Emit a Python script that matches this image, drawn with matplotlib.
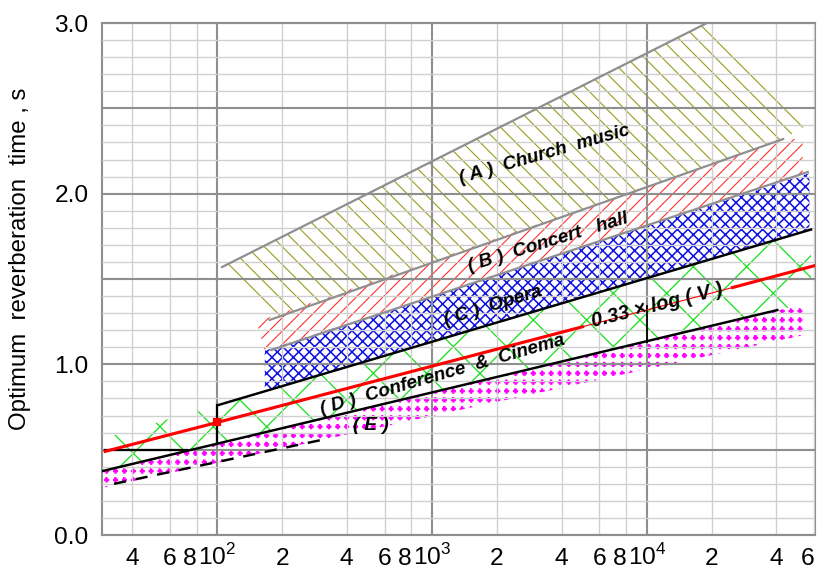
import numpy as np
import matplotlib
matplotlib.use("Agg")
import matplotlib.pyplot as plt
import matplotlib.hatch as mhatch
from matplotlib.path import Path
from matplotlib.patches import Polygon

plt.rcParams['font.family'] = ['Liberation Sans', 'DejaVu Sans']
plt.rcParams['mathtext.fontset'] = 'custom'
plt.rcParams['mathtext.rm'] = 'Liberation Sans'
plt.rcParams['hatch.linewidth'] = 0.55

DPI = 160

# ---- room volume V (m^3) against optimum reverberation time T (s) ----
# band outlines as (V, T) corner lists
church_v = [105, 1.9e4, 5.7e4, 4.3e4, 175]
church_t = [1.57, 3.0, 2.41, 2.32, 1.26]
concert_v = [152, 4.3e4, 5.3e4, 5.3e4, 166]
concert_t = [1.25, 2.32, 2.32, 2.12, 1.08]
opera_v = [166, 5.7e4, 5.7e4, 166]
opera_t = [1.08, 2.12, 1.79, 0.84]
conf_v = [29, 5.8e4, 5.8e4, 4.04e4, 29]
conf_t = [0.564, 1.79, 1.36, 1.318, 0.374]
speech_v = [29, 4.04e4, 5.3e4, 5.3e4, 30]
speech_t = [0.374, 1.318, 1.34, 1.17, 0.28]

# boundary lines
church_top_v, church_top_t = [105, 1.9e4], [1.57, 3.0]
concert_top_v, concert_top_t = [175, 4.3e4], [1.26, 2.32]
opera_top_v, opera_top_t = [178, 5.6e4], [1.084, 2.127]
upper_v, upper_t = [100, 5.8e4], [0.76, 1.79]
lower_v, lower_t = [29, 4.04e4], [0.374, 1.318]
flat_v, flat_t = [30, 72], [0.5, 0.5]
dash_v, dash_t = [33, 300], [0.30, 0.555]
bar100_v, bar100_t = [100, 100], [0.535, 0.76]
bar1e4_v, bar1e4_t = [1e4, 1e4], [1.13, 1.34]

# T = 0.33 log(V)
red_v = [30, 100, 5.0e3, 2.5e4, 6.1e4]
red_t = [0.49, 0.66, 1.22, 1.45, 1.58]

xminor = [40, 60, 80, 200, 400, 600, 800, 2000, 4000, 6000, 8000, 2e4, 4e4, 6e4]
xminor_labels = ['4', '6', '8', '2', '4', '6', '8', '2', '4', '6', '8', '2', '4', '6']
xmajor = [100, 1000, 10000]
xmajor_labels = [r'$10^{2}$', r'$10^{3}$', r'$10^{4}$']
ymajor = [0.0, 0.5, 1.0, 1.5, 2.0, 2.5, 3.0]
ymajor_labels = ['0.0', '', '1.0', '', '2.0', '', '3.0']


# small filled "+" marks on a square grid, used for band (E)
_arm, _half = 1.0, 0.3
PLUS = np.array([(-_half, _arm), (_half, _arm), (_half, _half), (_arm, _half),
                 (_arm, -_half), (_half, -_half), (_half, -_arm), (-_half, -_arm),
                 (-_half, -_half), (-_arm, -_half), (-_arm, _half), (-_half, _half),
                 (-_half, _arm)])
PLUS_CODES = np.full(len(PLUS), Path.LINETO, dtype=Path.code_type)
PLUS_CODES[0] = Path.MOVETO


class PlusDots(mhatch.HatchPatternBase):
    def __init__(self, hatch, density):
        self.num_rows = hatch.count('*') * density
        if self.num_rows:
            self.num_vertices = (self.num_rows + 1) ** 2 * len(PLUS)
        else:
            self.num_vertices = 0

    def set_vertices_and_codes(self, vertices, codes):
        step = 1.0 / self.num_rows
        shape = PLUS * step * 0.22
        n = len(shape)
        cur = 0
        for i in range(self.num_rows + 1):
            for j in range(self.num_rows + 1):
                vertices[cur:cur + n] = shape + (j * step, i * step)
                codes[cur:cur + n] = PLUS_CODES
                cur += n


mhatch._hatch_types = [h for h in mhatch._hatch_types if h is not mhatch.Stars] + [PlusDots]

fig = plt.figure(figsize=(818 / DPI, 572 / DPI), dpi=DPI)
ax = fig.add_axes([102 / 818, 1 - 535 / 572, (815 - 102) / 818, (535 - 23) / 572])
ax.set_xscale('log')
ax.set_xlim(29, 6.05e4)
ax.set_ylim(0, 3.0)


def band(vs, ts, color, hatch, lw=0.55):
    p = Polygon(np.column_stack([vs, ts]), closed=True, facecolor='none',
                edgecolor=color, linewidth=0, hatch=hatch, zorder=1)
    p.set_hatch_linewidth(lw)
    ax.add_patch(p)


band(church_v, church_t, '#9a9a1e', '\\\\\\', lw=0.5)
band(concert_v, concert_t, '#ff3030', '////', lw=0.5)
band(opera_v, opera_t, '#1010e0', 'xxxxx', lw=0.7)
band(conf_v, conf_t, '#22e022', 'x', lw=0.6)
band(speech_v, speech_t, '#ff00ff', '***')

gray = '#8f8f8f'
ax.plot(church_top_v, church_top_t, color=gray, lw=1.0, zorder=3)
ax.plot(concert_top_v, concert_top_t, color=gray, lw=1.0, zorder=3)
ax.plot(opera_top_v, opera_top_t, color=gray, lw=1.0, zorder=3)

ax.plot(upper_v, upper_t, color='black', lw=1.1, zorder=4)
ax.plot(lower_v, lower_t, color='black', lw=1.1, zorder=4)
ax.plot(flat_v, flat_t, color='black', lw=1.0, zorder=4)
ax.plot(bar100_v, bar100_t, color='black', lw=1.0, zorder=4)
ax.plot(bar1e4_v, bar1e4_t, color='black', lw=0.8, zorder=4)
ax.plot(dash_v, dash_t, color='black', lw=1.1, dashes=(5, 4), zorder=4)

ax.plot(red_v[:3], red_t[:3], color='red', lw=1.4, zorder=4)
ax.plot(red_v[2:4], red_t[2:4], color='red', lw=0.5, zorder=4)
ax.plot(red_v[3:], red_t[3:], color='red', lw=1.4, zorder=4)
ax.plot(red_v[1], red_t[1], 's', color='red', ms=2.5, zorder=5)

# grid: heavy lines at decades and every 0.5 s, light lines between
ax.set_xticks(xmajor, labels=xmajor_labels)
ax.set_xticks(xminor, labels=xminor_labels, minor=True)
ax.set_yticks(ymajor, labels=ymajor_labels)
ax.set_yticks(np.arange(0.1, 3.0, 0.1), minor=True)
ax.grid(True, which='major', color=gray, lw=0.95)
ax.grid(True, which='minor', color='#cfcfcf', lw=0.6)
ax.set_axisbelow(False)
ax.tick_params(which='both', length=0, labelsize=11, colors='black')
ax.tick_params(axis='x', which='both', pad=13.5)
ax.tick_params(axis='y', pad=6)
for lab in ax.get_xticklabels() + ax.get_xticklabels(minor=True):
    lab.set_verticalalignment('baseline')
minor_ticks = ax.xaxis.get_minor_ticks()
for tick, text in zip(minor_ticks, xminor_labels):
    if text == '8':
        tick.label1.set_horizontalalignment('right')
minor_ticks[-1].label1.set_horizontalalignment('right')
for s in ax.spines.values():
    s.set_color(gray)
    s.set_linewidth(0.95)

ax.set_ylabel('Optimum  reverberation  time , s', fontsize=10.8)
ax.yaxis.set_label_coords(-0.099, 0.54)

lab_kw = dict(fontsize=8.5, fontweight='bold', fontstyle='italic', ha='center',
              va='center', rotation_mode='anchor', zorder=6)
ax.text(3.32e3, 2.23, '( A )  Church  music', rotation=16, **lab_kw)
ax.text(3.47e3, 1.716, '( B )  Concert   hall', rotation=17, **lab_kw)
ax.text(1.91e3, 1.34, '( C )  Opera', rotation=17, **lab_kw)
ax.text(1.12e3, 0.937, '( D )  Conference  &  Cinema', rotation=16, **lab_kw)
ax.text(520, 0.644, '( E )', rotation=0, **lab_kw)
ax.text(1.11e4, 1.347, '0.33 \u00d7 log ( V )', rotation=14,
        **{**lab_kw, 'fontsize': 9})

fig.savefig('out.png', dpi=DPI)
